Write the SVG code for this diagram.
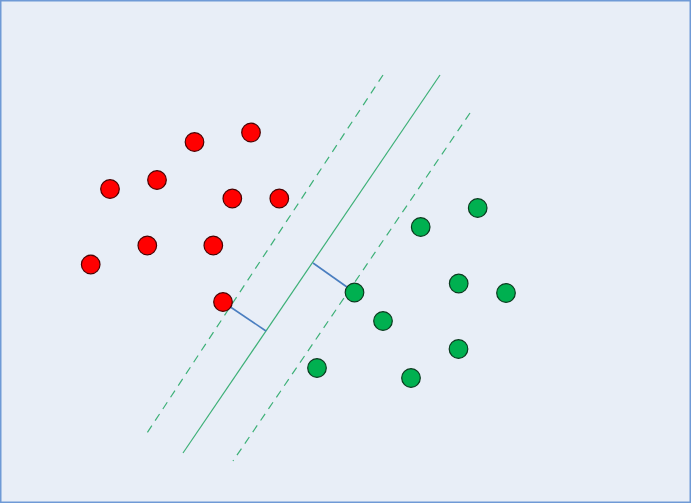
<svg xmlns="http://www.w3.org/2000/svg" width="691" height="503" viewBox="0 0 691 503">
<style>
.red{fill:#FF0000;stroke:#4A0000;stroke-width:1.2}
.green{fill:#00B050;stroke:#0A3A1E;stroke-width:1.2}
.sep{stroke:#3DB077;stroke-width:1.2;fill:none}
.dash{stroke-dasharray:8,6}
.dist{stroke:#4A7EC0;stroke-width:1.6;fill:none}
</style>
<rect x="0.75" y="0.75" width="689.5" height="501.5" fill="#E8EEF7" stroke="#6F9AD6" stroke-width="1.5"/>
<g id="connectors">
<line class="sep dash" x1="383" y1="75" x2="147" y2="433"/>
<line class="sep" x1="440" y1="75" x2="183" y2="453"/>
<line class="sep dash" x1="470" y1="113" x2="233" y2="461"/>
<line class="dist" x1="223" y1="302" x2="266" y2="331"/>
<line class="dist" x1="313" y1="263" x2="354" y2="292"/>
</g>
<g id="r1"><circle class="red" cx="194.5" cy="142" r="9.3"/></g>
<g id="r2"><circle class="red" cx="251" cy="132.5" r="9.3"/></g>
<g id="r3"><circle class="red" cx="110" cy="189" r="9.3"/></g>
<g id="r4"><circle class="red" cx="157" cy="180" r="9.3"/></g>
<g id="r5"><circle class="red" cx="232.3" cy="198.5" r="9.3"/></g>
<g id="r6"><circle class="red" cx="279.3" cy="198.5" r="9.3"/></g>
<g id="r7"><circle class="red" cx="147.3" cy="245.5" r="9.3"/></g>
<g id="r8"><circle class="red" cx="213.3" cy="245.5" r="9.3"/></g>
<g id="r9"><circle class="red" cx="90.7" cy="264.5" r="9.3"/></g>
<g id="r10"><circle class="red" cx="223" cy="302" r="9.3"/></g>
<g id="g1"><circle class="green" cx="477.7" cy="208" r="9.3"/></g>
<g id="g2"><circle class="green" cx="420.7" cy="227" r="9.3"/></g>
<g id="g3"><circle class="green" cx="458.7" cy="283.5" r="9.3"/></g>
<g id="g4"><circle class="green" cx="506" cy="293" r="9.3"/></g>
<g id="g5"><circle class="green" cx="354.5" cy="292.5" r="9.3"/></g>
<g id="g6"><circle class="green" cx="383" cy="321" r="9.3"/></g>
<g id="g7"><circle class="green" cx="458.5" cy="349" r="9.3"/></g>
<g id="g8"><circle class="green" cx="317" cy="368" r="9.3"/></g>
<g id="g9"><circle class="green" cx="411" cy="378" r="9.3"/></g>
</svg>
